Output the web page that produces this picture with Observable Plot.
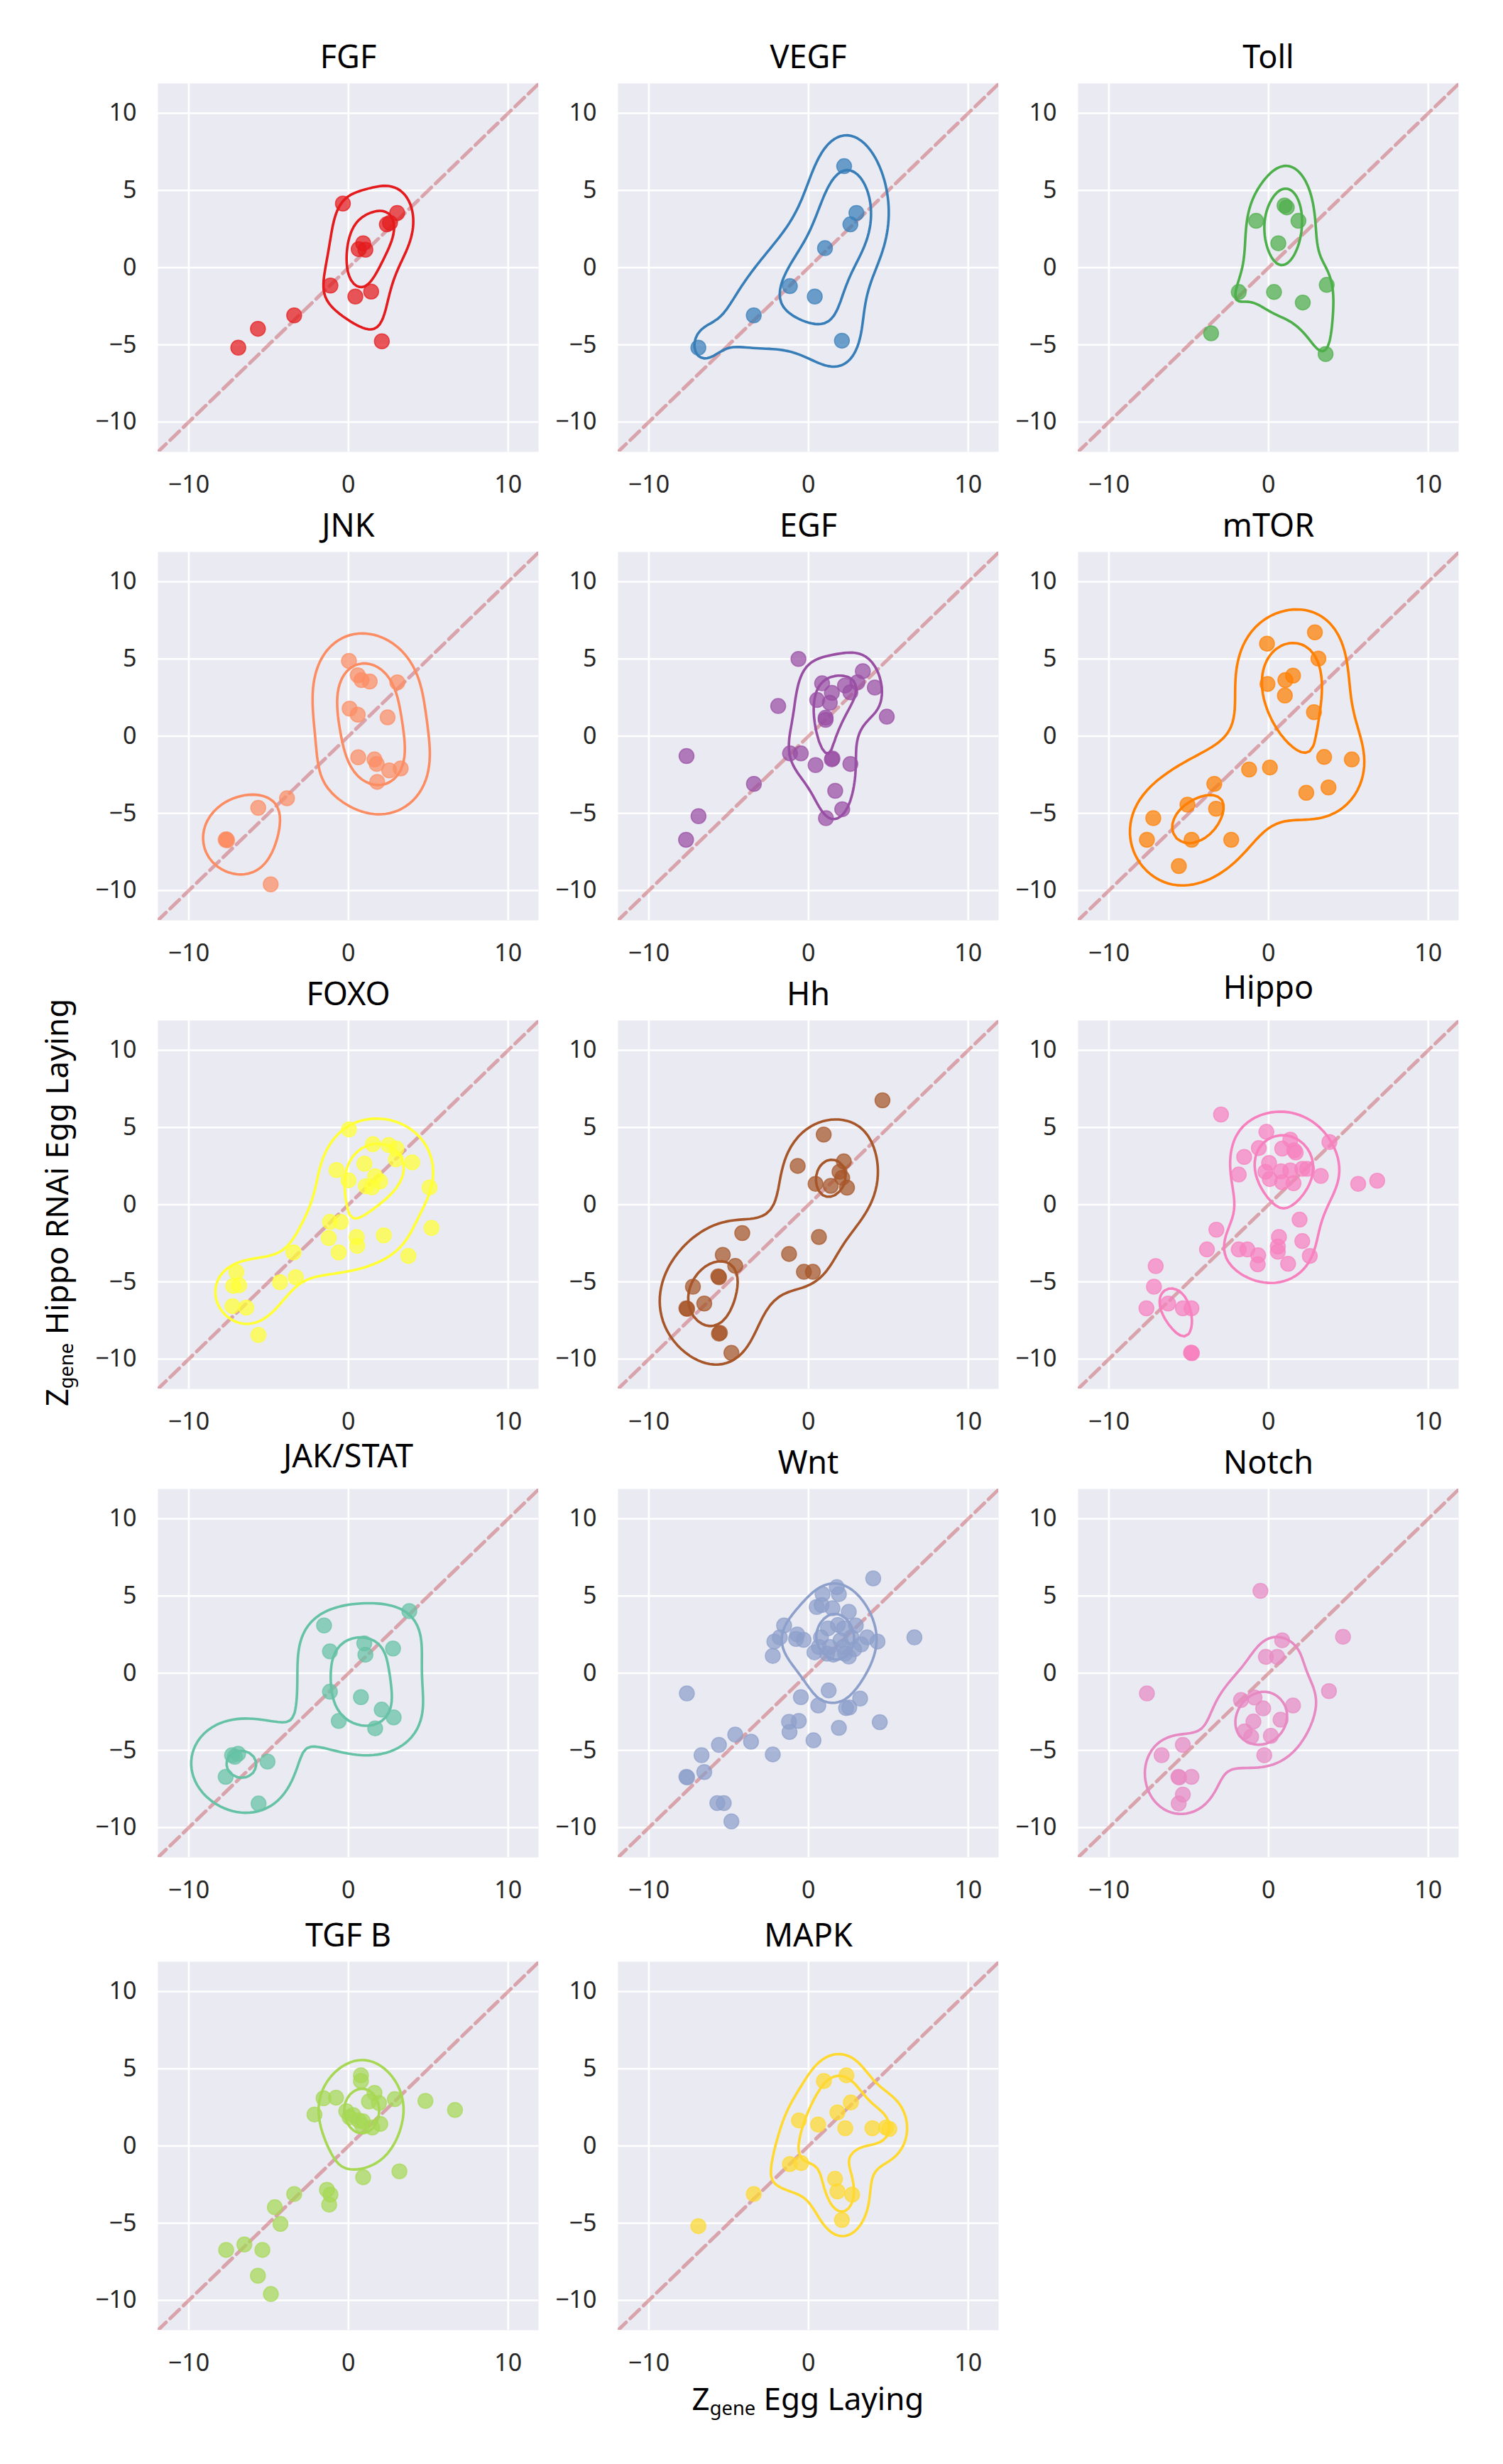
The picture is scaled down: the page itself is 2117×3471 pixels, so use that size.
<!DOCTYPE html>
<html>
<head>
<meta charset="utf-8">
<script src="https://cdn.jsdelivr.net/npm/d3@7"></script>
<script src="https://cdn.jsdelivr.net/npm/@observablehq/plot@0.6"></script>
<style>
  html, body { margin: 0; padding: 0; background: #ffffff; }
  #fig { position: relative; width: 2117px; height: 3471px; font-family: "Noto Sans", sans-serif; background: #ffffff; }
  .panel { position: absolute; }
  .axlabel { position: absolute; white-space: nowrap; font-size: 44px; color: #000; line-height: 1; }
  .axlabel sub { font-size: 0.62em; vertical-align: -0.25em; }
</style>
</head>
<body>
<div id="fig"></div>
<script>
// ---------------- data ----------------
const pathways = ["FGF", "VEGF", "Toll", "JNK", "EGF", "mTOR", "FOXO", "Hh", "Hippo", "JAK/STAT", "Wnt", "Notch", "TGF B", "MAPK"];
const pathwayColors = ["#e41a1c", "#377eb8", "#4daf4a", "#fc8d62", "#984ea3", "#ff7f00", "#ffff33", "#a65628", "#f781bf", "#66c2a5", "#8da0cb", "#e78ac3", "#a6d854", "#ffd92f"];

const xTicks = [-10, 0, 10];
const yTicks = [-10, -5, 0, 5, 10];
const identityLine = [-12, 12];
// number of KDE contour levels requested (levels picked at "nice" density values)
const contourLevelCount = 2;

const fgf = [[-0.35,4.15],[3.05,3.54],[2.4,2.8],[2.6,2.9],[0.92,1.58],[0.64,1.2],[1.06,1.16],[-1.13,-1.16],[0.43,-1.87],[1.42,-1.55],[-3.4,-3.09],[-5.67,-3.96],[-6.9,-5.18],[2.09,-4.77]];
const vegf = [[2.23,6.57],[3.0,3.54],[2.62,2.8],[1.03,1.26],[-1.17,-1.2],[0.39,-1.87],[-3.43,-3.09],[-6.9,-5.18],[2.09,-4.73]];
const toll = [[1.0,4.02],[1.14,3.9],[-0.78,3.03],[1.87,3.03],[0.61,1.58],[-1.87,-1.58],[0.34,-1.58],[3.64,-1.12],[2.14,-2.26],[-3.6,-4.25],[3.57,-5.6]];
const jnk = [[0.03,4.87],[0.58,3.94],[0.82,3.63],[1.33,3.54],[3.06,3.48],[0.07,1.78],[0.58,1.39],[2.45,1.22],[0.61,-1.37],[1.63,-1.51],[1.77,-1.8],[2.55,-2.22],[3.27,-2.09],[1.8,-2.96],[-3.85,-4.02],[-5.65,-4.64],[-7.69,-6.71],[-7.6,-6.75],[-7.65,-6.68],[-4.87,-9.6]];
const egf = [[-0.63,5.0],[3.4,4.21],[0.85,3.42],[3.06,3.48],[2.28,3.28],[2.62,2.84],[1.46,2.8],[4.15,3.15],[0.54,2.34],[1.33,2.16],[-1.9,1.95],[1.07,1.2],[1.07,1.06],[4.9,1.26],[-7.64,-1.29],[-1.16,-1.12],[-0.48,-1.12],[1.46,-1.5],[1.5,-1.45],[0.44,-1.87],[2.62,-1.8],[-3.42,-3.09],[1.67,-3.54],[2.11,-4.73],[1.09,-5.31],[-6.89,-5.18],[-7.67,-6.71]];
const mtor = [[2.9,6.72],[-0.1,5.99],[3.12,5.02],[1.53,3.92],[1.05,3.63],[-0.07,3.38],[1.02,2.63],[2.84,1.55],[3.48,-1.35],[5.21,-1.51],[-1.22,-2.16],[0.08,-2.03],[-3.4,-3.09],[3.75,-3.32],[2.36,-3.67],[-5.08,-4.44],[-3.29,-4.7],[-7.22,-5.31],[-7.62,-6.71],[-4.82,-6.71],[-2.34,-6.71],[-5.62,-8.41]];
const foxo = [[0.03,4.87],[1.53,3.92],[2.52,3.86],[3.0,3.63],[2.97,2.94],[3.99,2.74],[1.0,2.65],[-0.75,2.24],[0.0,1.58],[1.67,1.84],[1.98,1.5],[1.09,1.2],[1.47,1.12],[5.08,1.12],[-1.16,-1.12],[-0.48,-1.12],[-1.23,-2.16],[0.51,-2.09],[0.55,-2.67],[2.21,-1.99],[5.2,-1.51],[-0.61,-3.09],[3.75,-3.32],[-3.44,-3.09],[-3.3,-4.7],[-4.29,-5.02],[-7.02,-4.37],[-7.22,-5.26],[-6.85,-5.22],[-7.26,-6.57],[-6.4,-6.67],[-5.64,-8.44]];
const hh = [[4.63,6.76],[0.95,4.54],[2.21,2.8],[-0.68,2.51],[1.94,2.13],[2.11,1.74],[0.44,1.35],[1.39,1.22],[2.41,1.1],[-4.15,-1.84],[0.65,-2.09],[-1.22,-3.19],[-5.37,-3.25],[-4.59,-3.96],[-0.29,-4.35],[0.27,-4.35],[-5.65,-4.64],[-5.6,-4.7],[-7.24,-5.31],[-6.53,-6.4],[-7.65,-6.71],[-7.6,-6.75],[-5.61,-8.35],[-5.55,-8.3],[-4.83,-9.6]];
const hippo = [[-2.98,5.84],[-0.14,4.72],[1.36,4.21],[3.81,4.06],[-0.61,3.67],[0.85,3.63],[1.6,3.52],[1.7,3.38],[-1.53,3.09],[0.03,2.7],[-1.87,1.95],[-0.2,2.13],[0.78,2.16],[1.36,2.22],[2.11,2.32],[2.41,2.32],[3.27,1.86],[0.07,1.66],[0.85,1.45],[1.56,1.39],[5.61,1.35],[6.8,1.55],[1.94,-0.97],[-3.27,-1.62],[0.65,-2.09],[2.11,-2.36],[-3.86,-2.9],[-1.87,-2.9],[-1.33,-2.9],[0.58,-2.71],[0.58,-3.05],[-0.65,-3.28],[-0.68,-3.86],[1.22,-3.83],[2.58,-3.32],[-7.07,-3.98],[-7.18,-5.31],[-7.65,-6.71],[-6.29,-6.4],[-5.37,-6.71],[-4.83,-6.71],[-4.83,-9.6],[-4.8,-9.62],[-4.86,-9.58]];
const jakstat = [[3.81,4.02],[-1.53,3.09],[0.99,1.93],[2.79,1.6],[-1.16,1.41],[1.06,1.2],[-1.16,-1.2],[0.78,-1.55],[2.08,-2.36],[2.83,-2.86],[-0.61,-3.09],[1.67,-3.57],[-7.29,-5.31],[-6.91,-5.22],[-7.12,-5.41],[-5.07,-5.72],[-7.69,-6.71],[-5.63,-8.44]];
const wnt = [[4.05,6.14],[1.77,5.57],[1.9,5.12],[0.88,5.12],[0.51,4.29],[0.82,4.41],[1.5,4.21],[2.52,3.98],[-1.53,3.09],[1.84,3.13],[2.96,3.09],[1.22,2.9],[2.21,2.9],[-1.8,2.32],[-2.14,2.05],[-0.71,2.51],[-0.78,2.22],[-0.31,2.16],[0.78,2.32],[2.0,2.13],[2.69,2.32],[3.67,2.32],[4.32,2.05],[6.63,2.32],[3.3,1.86],[0.65,1.7],[1.33,1.7],[2.18,1.7],[0.37,1.35],[1.16,1.26],[1.56,1.2],[2.28,1.26],[2.86,1.55],[2.52,1.08],[-2.24,1.12],[-7.62,-1.31],[1.26,-1.12],[-0.48,-1.55],[3.23,-1.64],[0.61,-2.09],[2.35,-2.26],[2.55,-2.22],[-1.22,-3.15],[-0.61,-3.09],[-1.19,-3.81],[1.9,-3.54],[4.46,-3.17],[-4.59,-3.98],[-3.6,-4.44],[-5.61,-4.64],[0.31,-4.35],[-6.7,-5.31],[-2.24,-5.26],[-6.53,-6.4],[-7.65,-6.71],[-7.6,-6.75],[-5.71,-8.41],[-5.31,-8.41],[-4.83,-9.6]];
const notch = [[-0.51,5.33],[0.85,2.13],[4.66,2.36],[-0.17,1.06],[0.54,1.06],[-7.62,-1.31],[3.78,-1.16],[-1.73,-1.74],[-0.88,-1.58],[-0.34,-2.28],[1.53,-2.09],[-0.95,-3.13],[0.75,-3.01],[-1.5,-3.77],[-1.09,-4.12],[0.14,-4.06],[-5.37,-4.64],[-6.7,-5.31],[-0.27,-5.31],[-5.65,-6.71],[-5.6,-6.75],[-4.83,-6.71],[-5.37,-7.86],[-5.63,-8.44]];
const tgfb = [[0.78,4.58],[0.78,4.21],[-1.56,3.09],[-0.78,3.13],[1.63,3.44],[1.28,2.88],[1.91,2.78],[2.9,3.03],[4.82,2.92],[6.67,2.33],[-2.13,2.04],[-0.14,2.25],[0.07,1.86],[0.3,2.0],[0.64,1.66],[0.85,1.35],[0.9,1.6],[1.49,1.19],[1.99,1.43],[0.92,-2.02],[3.19,-1.64],[-3.4,-3.11],[-1.35,-2.84],[-1.13,-3.15],[-1.21,-3.8],[-4.61,-3.97],[-4.26,-5.05],[-6.52,-6.38],[-7.66,-6.73],[-5.39,-6.73],[-5.67,-8.4],[-4.86,-9.59]];
const mapk = [[2.37,4.58],[0.96,4.21],[2.65,2.82],[1.81,2.17],[-0.6,1.66],[0.6,1.39],[2.3,1.15],[4.0,1.15],[4.85,1.19],[5.06,1.1],[-1.17,-1.17],[-0.46,-1.1],[1.66,-2.13],[1.81,-2.94],[2.73,-3.15],[2.09,-4.79],[-3.43,-3.11],[-6.9,-5.19]];

const pathwayPoints = [fgf, vegf, toll, jnk, egf, mtor, foxo, hh, hippo, jakstat, wnt, notch, tgfb, mapk];

// ---------------- layout ----------------
const colLeft = [222, 870, 1518];
const rowTop = [117, 777, 1437, 2097, 2763];
const PW = 536, PH = 519;
const ML = 100, MR = 8, MT = 72, MB = 68;
const xDomain = [-11.93, 11.9];
const yDomain = [-11.93, 11.93];

// Scott's rule per axis (robust sigma = min(std, IQR/1.349))
function scottBw(v) {
  const s = d3.deviation(v);
  const sorted = v.slice().sort(d3.ascending);
  const iqr = (d3.quantileSorted(sorted, 0.75) - d3.quantileSorted(sorted, 0.25)) / 1.349;
  const a = iqr > 0 ? Math.min(s, iqr) : s;
  return 1.059 * a * Math.pow(v.length, -0.2);
}

// "nice" contour levels for N requested levels (MaxNLocator(N + 1)-style)
function niceLevels(zmin, zmax, N) {
  const nbins = N + 1;
  const dv = zmax - zmin;
  const raw = dv / nbins;
  const scale = Math.pow(10, Math.floor(Math.log10(raw)));
  const steps = [1, 1.5, 2, 2.5, 3, 4, 5, 6, 8, 10];
  let step = 10 * scale, base = 0;
  for (const st of steps) {
    if (st < raw / scale) continue;
    step = st * scale;
    base = step * Math.floor(zmin / step);
    if (base + step * nbins >= zmax) break;
  }
  const levels = [];
  for (let k = 0; k <= nbins; k++) {
    const l = base + k * step;
    if (l > zmin && l < zmax) levels.push(l);
  }
  return levels;
}

// Product-Gaussian KDE on a grid, contoured at nice density levels
function kdeContours(pts, N) {
  const n = pts.length;
  const xs = pts.map(d => d[0]), ys = pts.map(d => d[1]);
  const bx = scottBw(xs), by = scottBw(ys);
  const G = 100, cut = 3;
  const x0 = d3.min(xs) - cut * bx, x1 = d3.max(xs) + cut * bx;
  const y0 = d3.min(ys) - cut * by, y1 = d3.max(ys) + cut * by;
  const dx = (x1 - x0) / (G - 1), dy = (y1 - y0) / (G - 1);
  const norm = 1 / (n * 2 * Math.PI * bx * by);
  const values = new Float64Array(G * G);
  for (let j = 0; j < G; j++) {
    const gy = y0 + j * dy;
    for (let i = 0; i < G; i++) {
      const gx = x0 + i * dx;
      let s = 0;
      for (const [px, py] of pts) {
        const ex = (gx - px) / bx, ey = (gy - py) / by;
        s += Math.exp(-0.5 * (ex * ex + ey * ey));
      }
      values[j * G + i] = s * norm;
    }
  }
  const levels = niceLevels(d3.min(values), d3.max(values), N);
  const contours = d3.contours().size([G, G]).thresholds(levels)(values);
  const rows = [];
  let ring = 0;
  for (const c of contours) {
    for (const poly of c.coordinates) {
      for (const r of poly) {
        for (const [cx, cy] of r) rows.push({x: x0 + (cx - 0.5) * dx, y: y0 + (cy - 0.5) * dy, ring});
        ring++;
      }
    }
  }
  return rows;
}

const fig = document.getElementById("fig");

pathways.forEach((name, i) => {
  const col = i % 3, row = Math.floor(i / 3);
  const color = pathwayColors[i];
  const data = pathwayPoints[i].map(([x, y]) => ({x, y}));
  const contourRows = kdeContours(pathwayPoints[i], contourLevelCount);
  const hasDescender = /[gjpqy\/]/.test(name);
  const chart = Plot.plot({
    width: ML + PW + MR,
    height: MT + PH + MB,
    marginLeft: ML, marginRight: MR, marginTop: MT, marginBottom: MB,
    x: {domain: xDomain},
    y: {domain: yDomain},
    style: {background: "transparent", fontFamily: "'Noto Sans', sans-serif", overflow: "visible"},
    marks: [
      Plot.frame({fill: "#EAEAF2", stroke: "none"}),
      Plot.gridX(xTicks, {stroke: "#ffffff", strokeOpacity: 1, strokeWidth: 2.7}),
      Plot.gridY(yTicks, {stroke: "#ffffff", strokeOpacity: 1, strokeWidth: 2.7}),
      Plot.line(identityLine, {x: d => d, y: d => d, stroke: "#c44e52", strokeOpacity: 0.45, strokeWidth: 5, strokeDasharray: "18 8", clip: true}),
      Plot.dot(data, {x: "x", y: "y", r: 10.5, fill: color, fillOpacity: 0.72, stroke: color, strokeOpacity: 0.72, strokeWidth: 1.5}),
      Plot.line(contourRows, {x: "x", y: "y", z: "ring", stroke: color, strokeWidth: 3.6, curve: "linear", clip: true}),
      Plot.axisX(xTicks, {tickSize: 0, tickPadding: 33, fontSize: 34, color: "#262626", label: null}),
      Plot.axisY(yTicks, {tickSize: 0, tickPadding: 30, fontSize: 34, color: "#262626", label: null}),
      Plot.text([name], {frameAnchor: "top", dy: hasDescender ? -31 : -22, lineAnchor: "bottom", fontSize: 45, fill: "#000000"})
    ]
  });
  const holder = document.createElement("div");
  holder.className = "panel";
  holder.style.left = (colLeft[col] - ML) + "px";
  holder.style.top = (rowTop[row] - MT) + "px";
  holder.appendChild(chart);
  fig.appendChild(holder);
});

// axis labels
const ylab = document.createElement("div");
ylab.className = "axlabel";
ylab.innerHTML = "Z<sub>gene</sub> Hippo RNAi Egg Laying";
ylab.style.left = "82px";
ylab.style.top = "1694px";
ylab.style.transform = "translate(-50%, -50%) rotate(-90deg)";
fig.appendChild(ylab);

const xlab = document.createElement("div");
xlab.className = "axlabel";
xlab.innerHTML = "Z<sub>gene</sub> Egg Laying";
xlab.style.left = "1138px";
xlab.style.top = "3381px";
xlab.style.transform = "translate(-50%, -50%)";
fig.appendChild(xlab);
</script>
</body>
</html>
